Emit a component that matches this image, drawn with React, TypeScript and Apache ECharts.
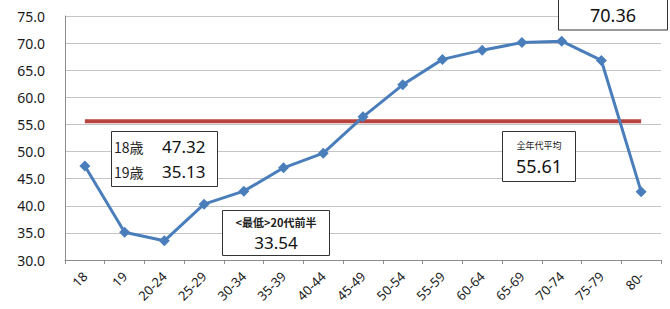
import React, { useEffect, useRef } from "react";
import * as echarts from "echarts";

const categories = ["18", "19", "20-24", "25-29", "30-34", "35-39", "40-44", "45-49", "50-54", "55-59", "60-64", "65-69", "70-74", "75-79", "80-"];
const turnout = [47.32, 35.13, 33.54, 40.3, 42.7, 47.0, 49.7, 56.4, 62.3, 67.0, 68.7, 70.1, 70.36, 66.8, 42.6];
const average = 55.61;
const yTicks = { min: 30, max: 75, interval: 5 };

const box1Lines = [
  { label: "18歳", value: "47.32" },
  { label: "19歳", value: "35.13" },
];
const box2Label = "<最低>20代前半";
const box2Value = "33.54";
const box3Label = "全年代平均";
const box3Value = "55.61";
const box4Value = "70.36";

export default function App() {
  const ref = useRef<HTMLDivElement>(null);
  useEffect(() => {
    if (!ref.current) return;
    const chart = echarts.init(ref.current, null, { renderer: "svg" });
    const numFont = "Noto Sans";
    const jpFont = "Noto Sans CJK JP";
    chart.setOption({
      animation: false,
      backgroundColor: "#ffffff",
      grid: { left: 65, right: 9, top: 16, bottom: 49 },
      xAxis: {
        type: "category",
        data: categories,
        boundaryGap: true,
        axisLine: { lineStyle: { color: "#8c8c8c", width: 1 } },
        axisTick: { show: true, length: 4, lineStyle: { color: "#8c8c8c" } },
        axisLabel: { rotate: 45, color: "#1a1a1a", fontSize: 13, fontFamily: numFont, margin: 14, interval: 0, padding: [0, 0, 0, 0] },
      },
      yAxis: {
        type: "value",
        min: yTicks.min,
        max: yTicks.max,
        interval: yTicks.interval,
        axisLine: { show: true, lineStyle: { color: "#8c8c8c" } },
        axisTick: { show: false },
        axisLabel: { color: "#1a1a1a", fontSize: 14, fontFamily: numFont, margin: 20, formatter: (v: number) => v.toFixed(1) },
        splitLine: { lineStyle: { color: "#c4c4c4", width: 1 } },
      },
      series: [
        {
          type: "line",
          data: categories.map(() => average),
          showSymbol: false,
          symbol: "none",
          lineStyle: { color: "#b8443f", width: 4 },
          z: 2,
        },
        {
          type: "line",
          data: turnout,
          symbol: "diamond",
          symbolSize: 11,
          itemStyle: { color: "#4a7ebb" },
          lineStyle: { color: "#4a7ebb", width: 3 },
          z: 3,
        },
      ],
      graphic: [
        { type: "rect", shape: { x: 111.5, y: 131.5, width: 106, height: 55 }, style: { fill: "#fff", stroke: "#333", lineWidth: 1 }, z: 10 },
        { type: "text", x: 114, y: 147, style: { text: box1Lines[0].label, font: `14px ${jpFont}`, fill: "#222", verticalAlign: "middle" }, z: 11 },
        { type: "text", x: 162, y: 146, style: { text: box1Lines[0].value, font: `17px ${numFont}`, fill: "#111", verticalAlign: "middle" }, z: 11 },
        { type: "text", x: 114, y: 172, style: { text: box1Lines[1].label, font: `14px ${jpFont}`, fill: "#222", verticalAlign: "middle" }, z: 11 },
        { type: "text", x: 162, y: 171, style: { text: box1Lines[1].value, font: `17px ${numFont}`, fill: "#111", verticalAlign: "middle" }, z: 11 },

        { type: "rect", shape: { x: 222.5, y: 210.5, width: 107, height: 45 }, style: { fill: "#fff", stroke: "#333", lineWidth: 1 }, z: 10 },
        { type: "text", x: 276, y: 222, style: { text: box2Label, font: `bold 11px ${jpFont}`, fill: "#222", align: "center", verticalAlign: "middle" }, z: 11 },
        { type: "text", x: 276, y: 242, style: { text: box2Value, font: `17px ${numFont}`, fill: "#111", align: "center", verticalAlign: "middle" }, z: 11 },

        { type: "rect", shape: { x: 502.5, y: 131.5, width: 73, height: 50 }, style: { fill: "#fff", stroke: "#333", lineWidth: 1 }, z: 10 },
        { type: "text", x: 539, y: 145, style: { text: box3Label, font: `9px ${jpFont}`, fill: "#222", align: "center", verticalAlign: "middle" }, z: 11 },
        { type: "text", x: 539, y: 166, style: { text: box3Value, font: `18px ${numFont}`, fill: "#111", align: "center", verticalAlign: "middle" }, z: 11 },

        { type: "rect", shape: { x: 558.5, y: -10, width: 109, height: 40 }, style: { fill: "#fff", stroke: "#333", lineWidth: 1 }, z: 10 },
        { type: "text", x: 613, y: 15, style: { text: box4Value, font: `18px ${numFont}`, fill: "#111", align: "center", verticalAlign: "middle" }, z: 11 },
      ],
    });
    return () => chart.dispose();
  }, []);
  return <div ref={ref} style={{ width: 670, height: 309, position: "absolute", left: 0, top: 0 }} />;
}
